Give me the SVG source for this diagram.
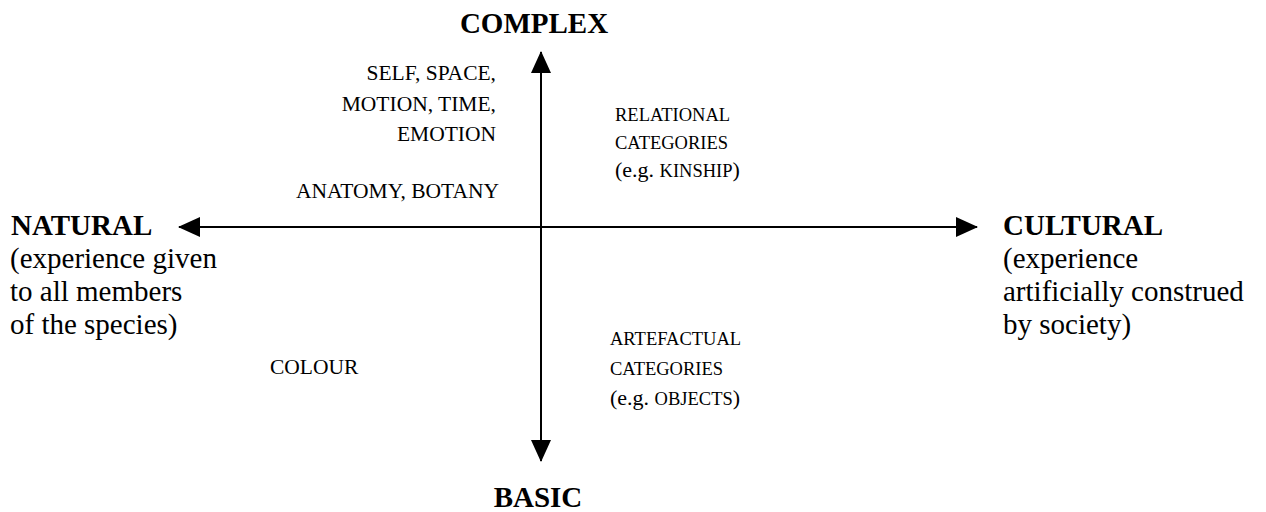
<svg xmlns="http://www.w3.org/2000/svg" width="1266" height="512" viewBox="0 0 1266 512">
<style>
text { font-family: 'Liberation Serif', 'DejaVu Serif', serif; fill: #000; }
.big { font-size: 29px; }
.bold { font-size: 29px; font-weight: bold; }
.sm { font-size: 21.5px; }
.sc { font-size: 18.5px; }
.lc { font-size: 22px; }
.axis { stroke: #000; stroke-width: 2; fill: none; }
</style>
<defs>
<marker id="arr" viewBox="0 0 22 20" refX="21" refY="10" markerWidth="22" markerHeight="20" markerUnits="userSpaceOnUse" orient="auto">
<path d="M0,0 L22,10 L0,20 Z" fill="#000"/>
</marker>
</defs>
<rect width="1266" height="512" fill="#fff"/>
<g id="connectors">
<line class="axis" x1="541" y1="440" x2="541" y2="52" marker-end="url(#arr)"/>
<line class="axis" x1="541" y1="72" x2="541" y2="461" marker-end="url(#arr)"/>
<line class="axis" x1="955" y1="227" x2="179" y2="227" marker-end="url(#arr)"/>
<line class="axis" x1="200" y1="227" x2="977" y2="227" marker-end="url(#arr)"/>
</g>
<g id="complex"><text class="bold" x="534" y="33" text-anchor="middle">COMPLEX</text></g>
<g id="basic"><text class="bold" x="538" y="507" text-anchor="middle">BASIC</text></g>
<g id="natural">
<text class="bold" x="11" y="235">NATURAL</text>
<text class="big" x="10" y="268">(experience given</text>
<text class="big" x="10" y="301">to all members</text>
<text class="big" x="10" y="334">of the species)</text>
</g>
<g id="cultural">
<text class="bold" x="1003" y="235">CULTURAL</text>
<text class="big" x="1003" y="268">(experience</text>
<text class="big" x="1003" y="301">artificially construed</text>
<text class="big" x="1003" y="334">by society)</text>
</g>
<g id="self">
<text class="sm" x="496" y="80" text-anchor="end">SELF, SPACE,</text>
<text class="sm" x="496" y="111" text-anchor="end">MOTION, TIME,</text>
<text class="sm" x="496" y="141" text-anchor="end">EMOTION</text>
</g>
<g id="anatomy"><text class="sm" x="499" y="198" text-anchor="end">ANATOMY, BOTANY</text></g>
<g id="colour"><text class="sm" x="270" y="374">COLOUR</text></g>
<g id="relational">
<text class="sc" x="615" y="121">RELATIONAL</text>
<text class="sc" x="615" y="149">CATEGORIES</text>
<text x="615" y="177"><tspan class="lc">(e.g. </tspan><tspan class="sc">KINSHIP</tspan><tspan class="lc">)</tspan></text>
</g>
<g id="artefactual">
<text class="sc" x="610" y="345">ARTEFACTUAL</text>
<text class="sc" x="610" y="375">CATEGORIES</text>
<text x="610" y="405"><tspan class="lc">(e.g. </tspan><tspan class="sc">OBJECTS</tspan><tspan class="lc">)</tspan></text>
</g>
</svg>
